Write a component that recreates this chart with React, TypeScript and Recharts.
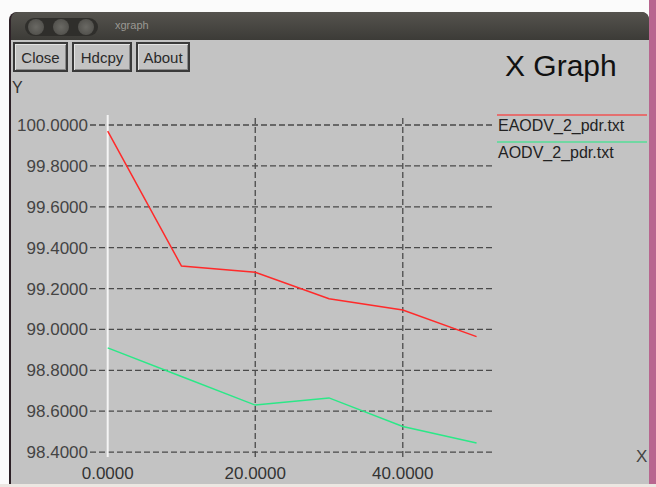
import { LineChart, Line, XAxis, YAxis, ReferenceLine, Legend } from "recharts";

const xValues = [0, 10, 20, 30, 40, 50];
const eaodvPdr = [99.97, 99.31, 99.28, 99.15, 99.095, 98.965];
const aodvPdr = [98.91, 98.77, 98.63, 98.665, 98.525, 98.445];
const seriesNames = ["EAODV_2_pdr.txt", "AODV_2_pdr.txt"];
const seriesColors = ["#ff2a2a", "#2be887"];
const yTicks = [98.4, 98.6, 98.8, 99.0, 99.2, 99.4, 99.6, 99.8, 100.0];
const xTicks = [0, 20, 40];
const gridX = [20, 40];
const buttons = ["Close", "Hdcpy", "About"];

const data = xValues.map((x, i) => ({ x, eaodv: eaodvPdr[i], aodv: aodvPdr[i] }));
const keys = ["eaodv", "aodv"];

const FONT = "'Liberation Sans', Arial, sans-serif";

function XgLegend() {
  return (
    <div style={{ fontFamily: FONT, fontSize: 16, color: "#222" }}>
      {seriesNames.map((name, i) => (
        <div key={name} style={{ position: "relative", height: 27 }}>
          <div style={{ position: "absolute", left: 0, top: 6, width: 150, height: 2, background: seriesColors[i], opacity: 0.55 }} />
          <div style={{ position: "absolute", left: 1, top: 9, lineHeight: "18px" }}>{name}</div>
        </div>
      ))}
    </div>
  );
}

export default function App() {
  const btnLeft = [13, 72, 136];
  const btnWidth = [55, 60, 54];
  return (
    <div style={{ position: "absolute", left: 0, top: 0, width: 656, height: 487, overflow: "hidden", background: "#fbfbfb", fontFamily: FONT }}>
      {/* desktop edge + window frame */}
      <div style={{ position: "absolute", left: 649, top: 0, width: 7, height: 487, background: "#b8668f" }} />
      <div style={{ position: "absolute", left: 0, top: 484, width: 656, height: 3, background: "#ece7e2" }} />
      <div style={{ position: "absolute", left: 9, top: 12, width: 640, height: 472, background: "#2c2026", borderRadius: "8px 8px 0 0" }} />
      <div style={{ position: "absolute", left: 11, top: 12, width: 638, height: 28, background: "linear-gradient(#55534e, #3c3b37)", borderRadius: "7px 7px 0 0" }} />
      <div style={{ position: "absolute", left: 25, top: 18, width: 73, height: 18, borderRadius: 9, background: "#2f2e2b" }} />
      {[36, 61, 86].map((cx) => (
        <div key={cx} style={{ position: "absolute", left: cx - 8, top: 19, width: 16, height: 16, borderRadius: 8, background: "radial-gradient(#6a6964, #4a4945)" }} />
      ))}
      <div style={{ position: "absolute", left: 115, top: 19, fontSize: 11, color: "#9a9893" }}>xgraph</div>
      <div style={{ position: "absolute", left: 11, top: 40, width: 638, height: 444, background: "#c3c3c3" }} />
      {buttons.map((b, i) => (
        <div key={b} style={{ position: "absolute", left: btnLeft[i], top: 42, width: btnWidth[i], height: 30, boxSizing: "border-box", border: "2px solid #3a3a3a", boxShadow: "inset 1px 1px 0 #e4e4e4, inset -1px -1px 0 #8a8a8a", fontSize: 15, color: "#2a2a2a", display: "flex", alignItems: "center", justifyContent: "center" }}>{b}</div>
      ))}
      <div style={{ position: "absolute", left: 505, top: 49, fontSize: 30, color: "#111" }}>X Graph</div>
      <div style={{ position: "absolute", left: 12, top: 79, fontSize: 16, color: "#333" }}>Y</div>
      <div style={{ position: "absolute", left: 636, top: 447, fontSize: 17, color: "#444" }}>X</div>

      <div style={{ position: "absolute", left: 0, top: 0 }}>
        <LineChart width={656} height={487} data={data} margin={{ top: 115, right: 161, bottom: 0, left: 0 }}>
          {yTicks.map((gy) => (
            <ReferenceLine key={"y" + gy} y={gy} stroke="#4a4a4a" strokeDasharray="6 3" strokeWidth={1.3} />
          ))}
          {gridX.map((gx) => (
            <ReferenceLine key={"x" + gx} x={gx} stroke="#4a4a4a" strokeDasharray="6 3" strokeWidth={1.3} />
          ))}
          <ReferenceLine x={0} stroke="#f4f4f4" strokeWidth={2} />
          <XAxis dataKey="x" type="number" domain={[-2.4, 52.5]} ticks={xTicks} height={30} axisLine={false} tickLine={false} tickSize={0} tickMargin={10} tickFormatter={(v: number) => v.toFixed(4)} tick={{ fontSize: 17, fill: "#333", fontFamily: FONT }} allowDataOverflow />
          <YAxis type="number" domain={[98.376, 100.049]} ticks={yTicks} width={90} axisLine={false} tickLine={false} tickSize={0} tickMargin={2} tickFormatter={(v: number) => v.toFixed(4)} tick={{ fontSize: 17, fill: "#444", fontFamily: FONT }} allowDataOverflow />
          <Legend layout="vertical" align="center" verticalAlign="middle" content={<XgLegend />} wrapperStyle={{ left: 497, top: 108, width: 152, height: 60 }} />
          {keys.map((k, i) => (
            <Line key={k} dataKey={k} name={seriesNames[i]} type="linear" stroke={seriesColors[i]} strokeWidth={1.5} dot={false} isAnimationActive={false} />
          ))}
        </LineChart>
      </div>
    </div>
  );
}
